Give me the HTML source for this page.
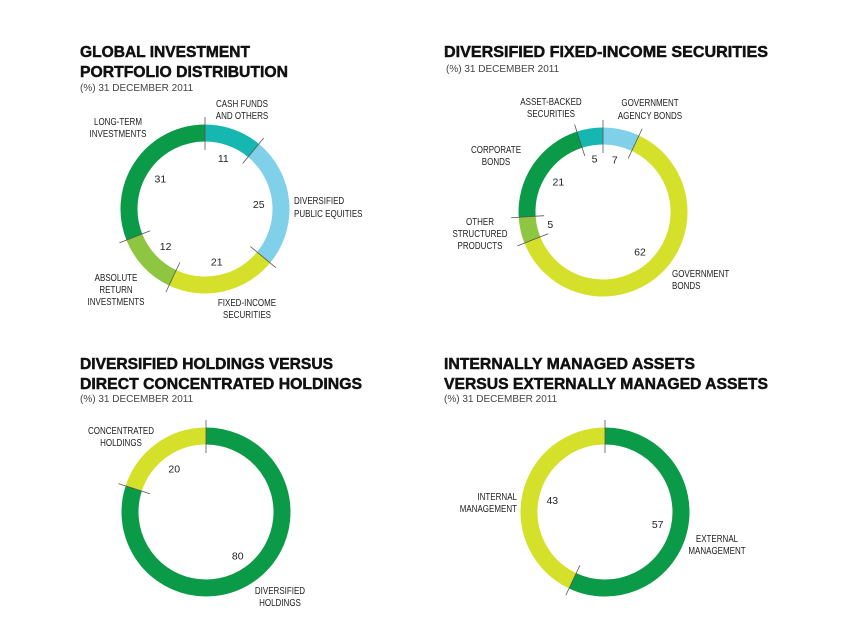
<!DOCTYPE html>
<html><head><meta charset="utf-8"><style>
html,body{margin:0;padding:0;background:#fff;}
svg{display:block;}
.t{font-family:"Liberation Sans",sans-serif;font-weight:bold;font-size:16px;fill:#111;stroke:#111;stroke-width:0.5;}
.s{font-family:"Liberation Sans",sans-serif;font-size:10px;fill:#444;}
.l{font-family:"Liberation Sans",sans-serif;font-size:10px;fill:#222;}
.v{font-family:"Liberation Sans",sans-serif;font-size:10.5px;fill:#222;}
</style></head><body>
<svg id="svg" width="848" height="644" viewBox="0 0 848 644" xmlns="http://www.w3.org/2000/svg">
<g>
<text class="t" x="80" y="57" textLength="170" lengthAdjust="spacingAndGlyphs">GLOBAL INVESTMENT</text>
<text class="t" x="80" y="77" textLength="208" lengthAdjust="spacingAndGlyphs">PORTFOLIO DISTRIBUTION</text>
<text class="s" x="80" y="91">(%) 31 DECEMBER 2011</text></g>
<g>
<text class="t" x="444" y="57" textLength="324" lengthAdjust="spacingAndGlyphs">DIVERSIFIED FIXED-INCOME SECURITIES</text>
<text class="s" x="446" y="72">(%) 31 DECEMBER 2011</text></g>
<g>
<text class="t" x="80" y="369" textLength="253" lengthAdjust="spacingAndGlyphs">DIVERSIFIED HOLDINGS VERSUS</text>
<text class="t" x="80" y="389" textLength="282" lengthAdjust="spacingAndGlyphs">DIRECT CONCENTRATED HOLDINGS</text>
<text class="s" x="80" y="402">(%) 31 DECEMBER 2011</text></g>
<g>
<text class="t" x="444" y="369" textLength="251" lengthAdjust="spacingAndGlyphs">INTERNALLY MANAGED ASSETS</text>
<text class="t" x="444" y="389" textLength="324" lengthAdjust="spacingAndGlyphs">VERSUS EXTERNALLY MANAGED ASSETS</text>
<text class="s" x="444" y="402">(%) 31 DECEMBER 2011</text></g>
<g>
<text class="l" text-anchor="middle" x="242" y="107">CASH FUNDS</text><text class="l" text-anchor="middle" x="242" y="119">AND OTHERS</text>
<text class="l" text-anchor="middle" x="118" y="125">LONG-TERM</text><text class="l" text-anchor="middle" x="118" y="137">INVESTMENTS</text>
<text class="l" x="294" y="204">DIVERSIFIED</text><text class="l" x="294" y="217">PUBLIC EQUITIES</text>
<text class="l" text-anchor="middle" x="116" y="281">ABSOLUTE</text><text class="l" text-anchor="middle" x="116" y="293">RETURN</text><text class="l" text-anchor="middle" x="116" y="305">INVESTMENTS</text>
<text class="l" text-anchor="middle" x="247" y="306">FIXED-INCOME</text><text class="l" text-anchor="middle" x="247" y="318">SECURITIES</text>
<text class="l" text-anchor="middle" x="551" y="105">ASSET-BACKED</text><text class="l" text-anchor="middle" x="551" y="117">SECURITIES</text>
<text class="l" text-anchor="middle" x="650" y="106">GOVERNMENT</text><text class="l" text-anchor="middle" x="650" y="119">AGENCY BONDS</text>
<text class="l" text-anchor="middle" x="496" y="153">CORPORATE</text><text class="l" text-anchor="middle" x="496" y="165">BONDS</text>
<text class="l" text-anchor="middle" x="480" y="225">OTHER</text><text class="l" text-anchor="middle" x="480" y="237">STRUCTURED</text><text class="l" text-anchor="middle" x="480" y="249">PRODUCTS</text>
<text class="l" x="672" y="277">GOVERNMENT</text><text class="l" x="672" y="289">BONDS</text>
<text class="l" text-anchor="middle" x="121" y="434">CONCENTRATED</text><text class="l" text-anchor="middle" x="121" y="446">HOLDINGS</text>
<text class="l" text-anchor="middle" x="280" y="594">DIVERSIFIED</text><text class="l" text-anchor="middle" x="280" y="606">HOLDINGS</text>
<text class="l" text-anchor="end" x="517" y="500">INTERNAL</text><text class="l" text-anchor="end" x="517" y="512">MANAGEMENT</text>
<text class="l" text-anchor="middle" x="717" y="542">EXTERNAL</text><text class="l" text-anchor="middle" x="717" y="554">MANAGEMENT</text>
</g>
</svg>
<script>
const c1Cats=["Cash funds and others","Diversified public equities","Fixed-income securities","Absolute return investments","Long-term investments"];
const c1Vals=[11,25,21,12,31];
const c1Cols=["#16b7b1","#7fd0e8","#d5e02a","#8ec641","#0b9a47"];
const c2Cats=["Government agency bonds","Government bonds","Other structured products","Corporate bonds","Asset-backed securities"];
const c2Vals=[7,62,5,21,5];
const c2Cols=["#7fd0e8","#d5e02a","#8ec641","#0b9a47","#16b7b1"];
const c3Cats=["Diversified holdings","Concentrated holdings"];
const c3Vals=[80,20];
const c3Cols=["#0b9a47","#d5e02a"];
const c4Cats=["External management","Internal management"];
const c4Vals=[57,43];
const c4Cols=["#0b9a47","#d5e02a"];
const NS="http://www.w3.org/2000/svg";
const svg=document.getElementById('svg');
document.querySelectorAll('text.l').forEach(t=>{
  const w=t.getComputedTextLength();
  t.setAttribute('textLength',(w*0.8).toFixed(1));
  t.setAttribute('lengthAdjust','spacingAndGlyphs');
});
function pt(cx,cy,r,f){const a=f*2*Math.PI;return [cx+r*Math.sin(a),cy-r*Math.cos(a)];}
function donut(name,cx,cy,cats,vals,cols){
  const g=document.createElementNS(NS,'g');
  
  
  svg.appendChild(g);
  const tot=vals.reduce((a,b)=>a+b,0);const R=76,W=17;let acc=0;
  vals.forEach((v,i)=>{
    const f0=acc/tot,f1=(acc+v)/tot;
    const p0=pt(cx,cy,R,f0),p1=pt(cx,cy,R,f1);
    const p=document.createElementNS(NS,'path');
    p.setAttribute('d',`M${p0[0]},${p0[1]} A${R},${R} 0 ${f1-f0>0.5?1:0} 1 ${p1[0]},${p1[1]}`);
    p.setAttribute('fill','none');p.setAttribute('stroke',cols[i]);p.setAttribute('stroke-width',W);
    
    
    g.appendChild(p);
    const fm=(f0+f1)/2;const q=pt(cx,cy,R-22,fm);
    const t=document.createElementNS(NS,'text');
    t.setAttribute('x',q[0]);t.setAttribute('y',q[1]+4);t.setAttribute('text-anchor','middle');t.setAttribute('class','v');
    t.textContent=v;
    
    
    g.appendChild(t);
    acc+=v;
  });
  acc=0;
  vals.forEach((v)=>{
    const f=acc/tot;const a=pt(cx,cy,R-17,f),b=pt(cx,cy,R+16,f);
    const l=document.createElementNS(NS,'line');
    l.setAttribute('x1',a[0]);l.setAttribute('y1',a[1]);l.setAttribute('x2',b[0]);l.setAttribute('y2',b[1]);
    l.setAttribute('stroke','#555');l.setAttribute('stroke-width','0.8');
    
    
    g.appendChild(l);acc+=v;
  });
}
donut('donut-global-portfolio',205,209,c1Cats,c1Vals,c1Cols);
donut('donut-fixed-income',603,212,c2Cats,c2Vals,c2Cols);
donut('donut-holdings',206,512,c3Cats,c3Vals,c3Cols);
donut('donut-managed-assets',605,512,c4Cats,c4Vals,c4Cols);
</script>
</body></html>
